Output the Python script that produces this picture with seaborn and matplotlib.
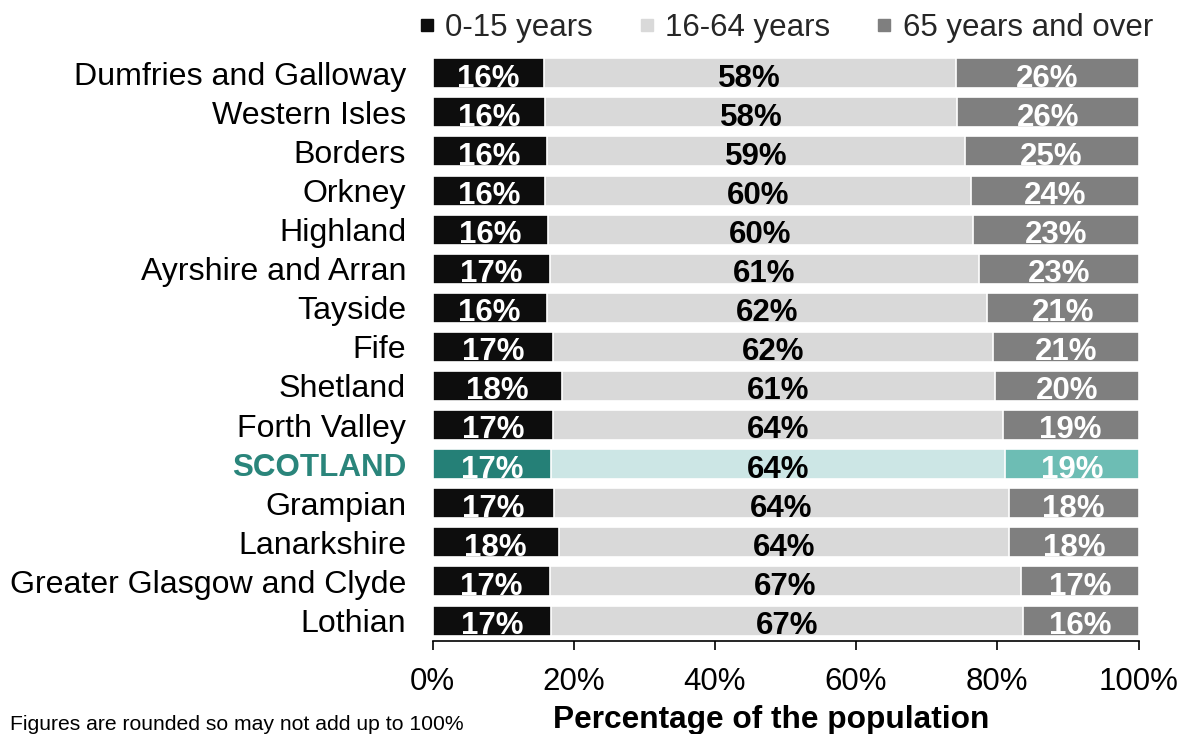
import matplotlib
matplotlib.use("Agg")
import matplotlib.pyplot as plt
from matplotlib.lines import Line2D
from matplotlib.ticker import FuncFormatter
import seaborn as sns
import pandas as pd

# NHS Board population share by age band (per cent)
regions = [
    "Dumfries and Galloway", "Western Isles", "Borders", "Orkney", "Highland",
    "Ayrshire and Arran", "Tayside", "Fife", "Shetland", "Forth Valley",
    "SCOTLAND", "Grampian", "Lanarkshire", "Greater Glasgow and Clyde", "Lothian",
]
age_0_15 = [15.8, 16.0, 16.2, 16.0, 16.3, 16.6, 16.2, 17.1, 18.3, 17.1,
            16.8, 17.2, 17.9, 16.6, 16.8]
age_16_64 = [58.3, 58.3, 59.2, 60.3, 60.3, 60.8, 62.4, 62.3, 61.4, 63.7,
             64.3, 64.4, 63.8, 66.8, 66.8]
age_65_plus = [25.9, 25.7, 24.6, 23.7, 23.4, 22.6, 21.4, 20.6, 20.3, 19.2,
               18.9, 18.4, 18.3, 16.6, 16.4]
series_names = ["0-15 years", "16-64 years", "65 years and over"]
tick_values = [0, 20, 40, 60, 80, 100]

HIGHLIGHT = "SCOTLAND"
base_colors = ["#0d0d0d", "#d9d9d9", "#7f7f7f"]
scot_colors = ["#258077", "#cce6e5", "#6dbdb4"]
scot_text = "#2a857b"
FS = 22.5

sns.set_theme(style="white")
plt.rcParams["font.family"] = ["Liberation Sans", "DejaVu Sans"]

df = pd.DataFrame({
    "region": regions,
    "young": age_0_15,
    "working": age_16_64,
    "older": age_65_plus,
})
df["cum_young"] = df["young"]
df["cum_working"] = df["young"] + df["working"]
df["cum_older"] = df["cum_working"] + df["older"]

fig = plt.figure(figsize=(11.86, 7.34), dpi=100)
ax = fig.add_axes([432.5 / 1186, (734 - 641) / 734, 706 / 1186, 587.25 / 734])

# Stacked bars drawn as layered cumulative totals, widest first
layers = [("cum_older", 2), ("cum_working", 1), ("cum_young", 0)]
for col, k in layers:
    pal = {r: (scot_colors[k] if r == HIGHLIGHT else base_colors[k]) for r in regions}
    sns.barplot(data=df, x=col, y="region", hue="region", palette=pal,
                order=regions, hue_order=regions, dodge=False, legend=False,
                width=0.767, edgecolor="white", linewidth=1.2, saturation=1,
                ax=ax)

# Segment value labels
for i, row in df.iterrows():
    segs = [
        (0, row["young"], "white"),
        (row["cum_young"], row["working"], "black"),
        (row["cum_working"], row["older"], "white"),
    ]
    for start, val, col in segs:
        ax.text(start + val / 2, i + 0.343, f"{int(val + 0.5)}%",
                ha="center", va="baseline", fontsize=FS, fontweight="bold",
                color=col)

ax.set_xlim(0, 100)
ax.set_ylim(14.524, -0.5)
ax.set_xticks(tick_values)
ax.xaxis.set_major_formatter(FuncFormatter(lambda v, p: f"{v:.0f}%"))
ax.set_xlabel("")
ax.set_ylabel("")

for side in ["top", "right", "left"]:
    ax.spines[side].set_visible(False)
ax.spines["bottom"].set_color("black")
ax.spines["bottom"].set_linewidth(1.2)

ax.tick_params(axis="x", direction="out", length=6.8, width=1.2,
               color="black", labelsize=FS, pad=12, bottom=True)
ax.tick_params(axis="y", length=0, labelsize=23.1, pad=19)

for lab in ax.get_yticklabels():
    if lab.get_text() == HIGHLIGHT:
        lab.set_color(scot_text)
        lab.set_fontweight("bold")
        lab.set_fontsize(22.6)
    else:
        lab.set_color("black")
for lab in ax.get_xticklabels():
    lab.set_color("black")

# Legend across the top
handles = [Line2D([], [], marker="s", linestyle="none", markersize=8.6,
                  markerfacecolor=c, markeredgecolor=c) for c in base_colors]
fig.legend(handles, series_names, loc="center left",
           bbox_to_anchor=(420 / 1186, 1 - 28 / 734), ncol=3, frameon=False,
           fontsize=FS, handlelength=0.45, handletextpad=0.36,
           columnspacing=1.5, borderpad=0, borderaxespad=0)

fig.text(771.5 / 1186, (734 - 728) / 734, "Percentage of the population",
         ha="center", va="baseline", fontsize=22.8, fontweight="bold",
         color="black")
fig.text(10 / 1186, (734 - 730) / 734,
         "Figures are rounded so may not add up to 100%",
         ha="left", va="baseline", fontsize=15.2, color="black")

fig.savefig("out.png", dpi=100)
